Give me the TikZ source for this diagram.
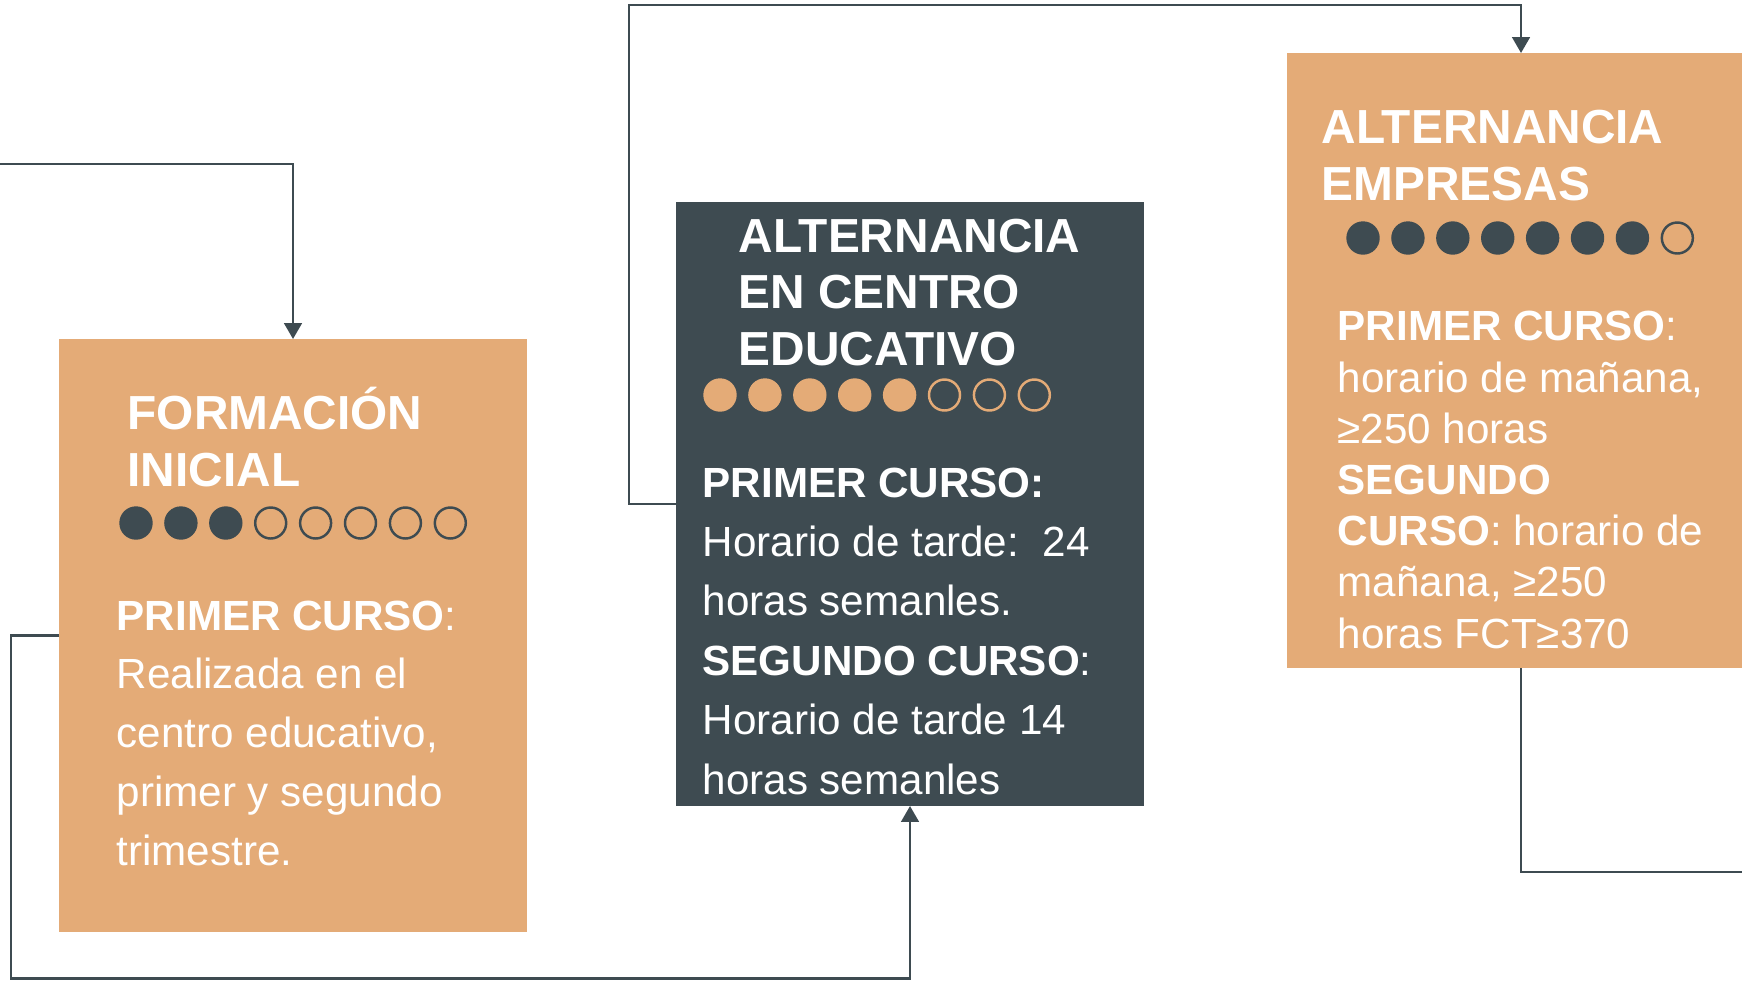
\documentclass[tikz,border=0pt]{standalone}
\usepackage{fontspec}
\setmainfont{Liberation Sans}
\usepackage{tikz}
\usetikzlibrary{arrows.meta}

\definecolor{sand}{HTML}{E4AB77}
\definecolor{slate}{HTML}{3E4B51}

\begin{document}
\begin{tikzpicture}
  [box/.style={minimum width=4.68cm, inner sep=0, outer sep=0},
   title/.style={anchor=base west, align=left, text=white, inner sep=0,
                 font=\fontsize{13.6}{16.2}\selectfont\bfseries},
   body/.style={anchor=base west, align=left, text=white, inner sep=0,
                font=\fontsize{12}{16.6}\selectfont},
   dot/.style={circle, minimum size=0.334cm, inner sep=0},
   ring/.style={circle, minimum size=0.31cm, inner sep=0, line width=0.7pt},
   link/.style={draw=slate, line width=0.7pt},
   tip/.style={-{Triangle[length=4.5pt, width=5pt]}}]

  \useasboundingbox (0, 0) rectangle (17.42, 9.8);

  % boxes
  \node[box, fill=sand, minimum height=5.93cm] (fi) at (2.93, 3.445) {};
  \node[box, fill=slate, minimum height=6.04cm] (ace) at (9.10, 4.76) {};
  \node[box, fill=sand, minimum height=6.15cm] (ae) at (15.21, 6.195) {};

  % formacion inicial (text placed at its last baseline)
  \node[title] (fitit) at (1.27, 4.94) {FORMACIÓN\\INICIAL};
  \foreach \i in {1,...,8} {
    \ifnum\i<4
      \node[dot, fill=slate] (fid\i) at (1.36+0.449*\i-0.449, 4.57) {};
    \else
      \node[ring, draw=slate] (fid\i) at (1.36+0.449*\i-0.449, 4.57) {};
    \fi
  }
  \node[body, font=\fontsize{12}{16.7}\selectfont] (fitxt) at (1.16, 1.15)
    {\textbf{PRIMER CURSO}:\\Realizada en el\\centro educativo,\\primer y segundo\\trimestre.};

  % alternancia en centro educativo
  \node[title, font=\fontsize{13.6}{16.07}\selectfont\bfseries] (acetit) at (7.38, 6.15)
    {ALTERNANCIA\\EN CENTRO\\EDUCATIVO};
  \foreach \i in {1,...,8} {
    \ifnum\i<6
      \node[dot, fill=sand] (aced\i) at (7.20+0.449*\i-0.449, 5.85) {};
    \else
      \node[ring, draw=sand] (aced\i) at (7.20+0.449*\i-0.449, 5.85) {};
    \fi
  }
  \node[body, font=\fontsize{12}{16.9}\selectfont] (acetxt) at (7.02, 1.86)
    {\textbf{PRIMER CURSO:}\\Horario de tarde:\ \ 24\\horas semanles.\\
     \textbf{SEGUNDO CURSO}:\\Horario de tarde 14\\horas semanles};

  % alternancia empresas
  \node[title] (aetit) at (13.21, 7.80) {ALTERNANCIA\\EMPRESAS};
  \foreach \i in {1,...,8} {
    \ifnum\i<8
      \node[dot, fill=slate] (aed\i) at (13.63+0.449*\i-0.449, 7.42) {};
    \else
      \node[ring, draw=slate] (aed\i) at (13.63+0.449*\i-0.449, 7.42) {};
    \fi
  }
  \node[body, font=\fontsize{12}{14.56}\selectfont] (aetxt) at (13.37, 3.32)
    {\textbf{PRIMER CURSO}:\\horario de mañana,\\≥250 horas\\\textbf{SEGUNDO}\\
     \textbf{CURSO}: horario de\\mañana, ≥250\\horas FCT≥370};

  % connectors
  \coordinate (inA) at (0, 8.16);
  \draw[link, tip] (inA) -| (fi.north);

  \coordinate (lowB) at (0.11, 0.015);
  \draw[link, tip] (fi.west) -| (lowB) -| (ace.south);

  \coordinate (topC) at (6.29, 9.75);
  \draw[link, tip] (ace.west) -| (topC) -| (ae.north);

  \coordinate (outD) at (17.42, 1.08);
  \draw[link] (ae.south) |- (outD);

\end{tikzpicture}
\end{document}
